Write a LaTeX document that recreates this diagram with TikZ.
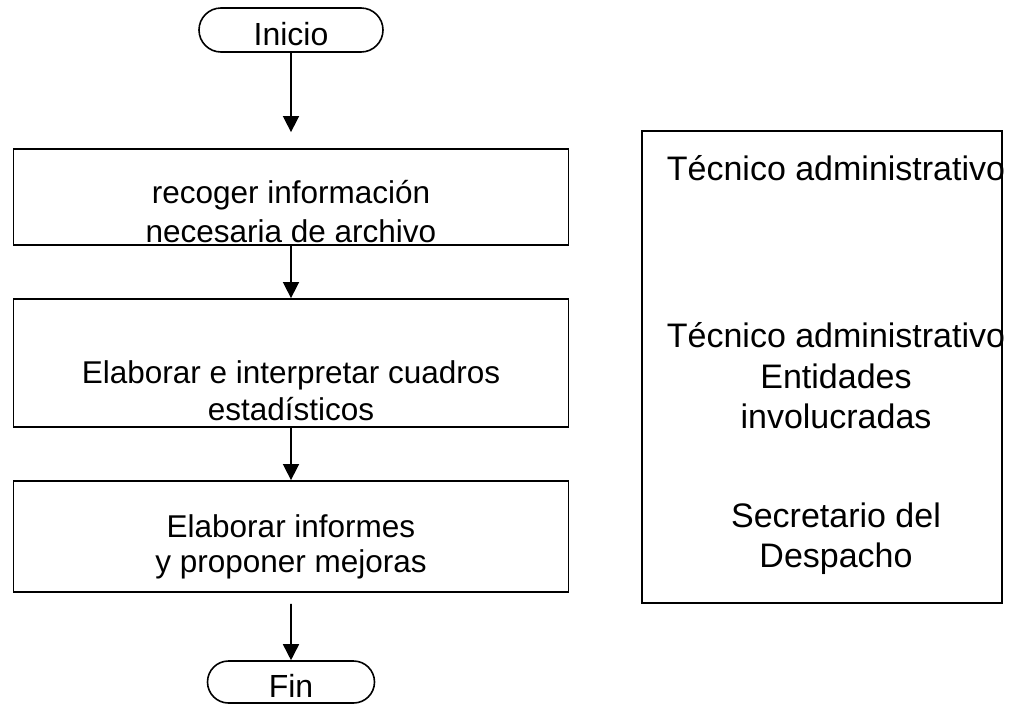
\documentclass[tikz,border=0pt]{standalone}
\usepackage{fontspec}
\setmainfont{Liberation Sans}
\usetikzlibrary{arrows.meta,shapes.misc}
\tikzset{
  proc/.style={draw, line width=1.8pt, inner sep=0pt, minimum width=555pt},
  term/.style={draw, line width=1.6pt, rounded rectangle, inner sep=0pt,
    font=\fontsize{32}{38}\selectfont, text height=30pt, text depth=0pt},
  flow/.style={-{Triangle[width=16pt,length=16pt]}, line width=1.6pt},
  lbl/.style={font=\fontsize{31.5}{38}\selectfont, inner sep=0pt, anchor=base},
  rlbl/.style={font=\fontsize{34}{40}\selectfont, inner sep=0pt, anchor=base},
}
\begin{document}
\begin{tikzpicture}[x=1pt,y=-1pt]
\useasboundingbox (0,0) rectangle (1009,710);
% flowchart
\node[term, minimum width=184pt, minimum height=44pt] (inicio) at (291,30) {Inicio};
\node[proc, minimum height=96pt] (b1) at (291,197) {};
\node[proc, minimum height=128pt] (b2) at (291,363) {};
\node[proc, minimum height=111pt] (b3) at (291,536.5) {};
\node[term, minimum width=167pt, minimum height=42pt] (fin) at (291,682) {Fin};

\node[lbl] (t1a) at (291,203) {recoger información};
\node[lbl] (t1b) at (291,242) {necesaria de archivo};
\node[lbl] (t2a) at (291,383) {Elaborar e interpretar cuadros};
\node[lbl] (t2b) at (291,420) {estadísticos};
\node[lbl] (t3a) at (291,537) {Elaborar informes};
\node[lbl] (t3b) at (291,572) {y proponer mejoras};

\draw[flow, shorten >=16pt] (inicio) -- (b1);
\draw[flow] (b1) -- (b2);
\draw[flow] (b2) -- (b3);
\draw[flow, shorten <=11pt] (b3) -- (fin);

% responsibles box
\node[draw, line width=1.8pt, inner sep=0pt, minimum width=360pt, minimum height=472pt] (resp) at (822,367) {};
\node[rlbl] (r1) at (836,180) {Técnico administrativo};
\node[rlbl] (r2) at (836,347) {Técnico administrativo};
\node[rlbl] (r3) at (836,388) {Entidades};
\node[rlbl] (r4) at (836,428) {involucradas};
\node[rlbl] (r5) at (836,527) {Secretario del};
\node[rlbl] (r6) at (836,567) {Despacho};
\end{tikzpicture}
\end{document}
